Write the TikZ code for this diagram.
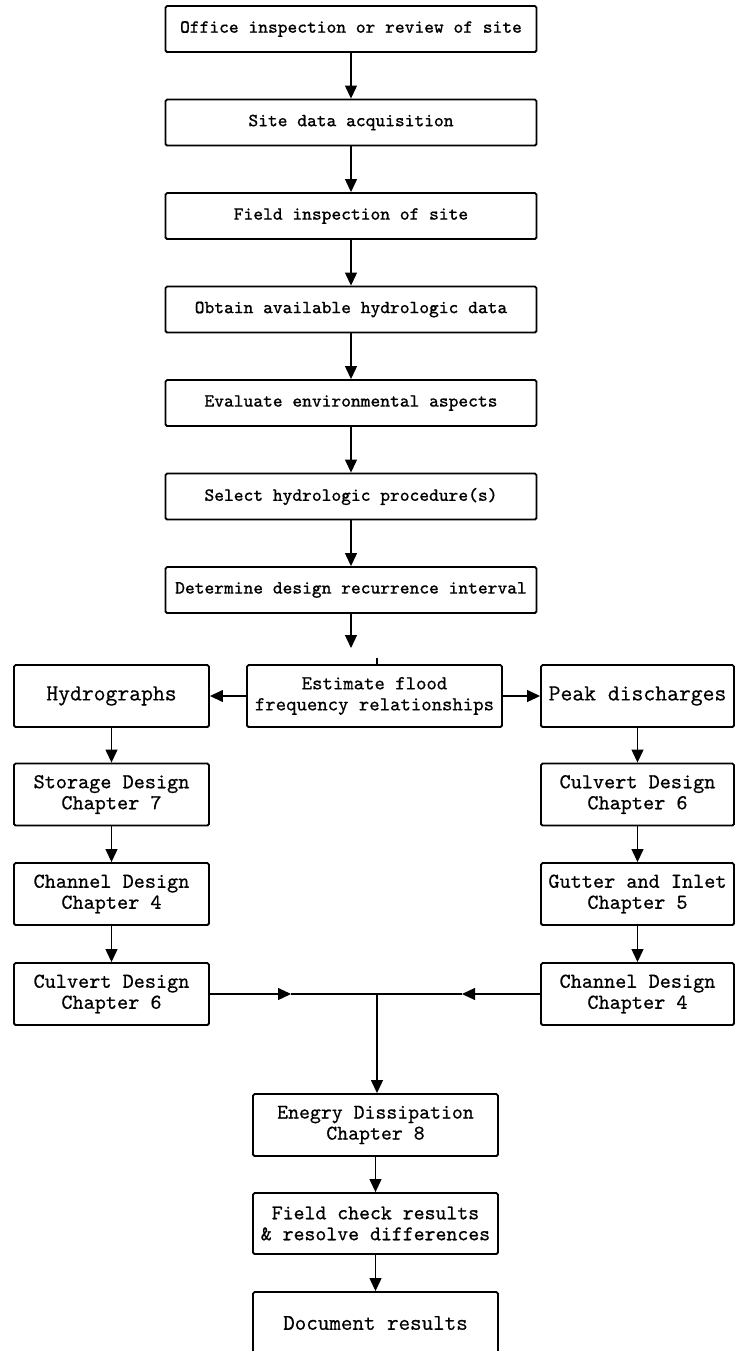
\documentclass[tikz,border=0pt]{standalone}
\usepackage{fontspec}
\newfontfamily\plotfont{Latin Modern Mono}[FakeBold=0.6]
\usetikzlibrary{arrows.meta}
\begin{document}
\begin{tikzpicture}[x=0.5pt,y=-0.5pt,
  fs/.style={font=\fontsize{#1}{10.5}\selectfont\plotfont},
  box/.style={draw,line width=0.95pt,align=center,inner sep=0pt,rounded corners=0.8pt,fs=10.6},
  topbox/.style={box,minimum width=185.5pt,minimum height=23pt,fs=9.3},
  sidebox/.style={box,minimum width=97.5pt,minimum height=31pt},
  rightbox/.style={box,minimum width=96.5pt,minimum height=31pt},
  midbox/.style={box,minimum width=122.5pt,minimum height=31pt},
  arr/.style={line width=0.6pt,-{Triangle[length=6.5pt,width=6pt]}},
  conn/.style={line width=0.6pt}]
\useasboundingbox (0,0) rectangle (735,1351);
\clip (0,0) rectangle (735,1351);
\fill[white] (0,0) rectangle (735,1351);

% top column
\node[topbox] (office) at (351,29)    {Office inspection or review of site};
\node[topbox] (site)   at (351,122.5) {Site data acquisition};
\node[topbox] (field)  at (351,216)   {Field inspection of site};
\node[topbox] (obtain) at (351,309.5) {Obtain available hydrologic data};
\node[topbox] (eval)   at (351,403)   {Evaluate environmental aspects};
\node[topbox] (select) at (351,496.5) {Select hydrologic procedure(s)};
\node[topbox] (det)    at (351,590)   {Determine design recurrence interval};

\draw[arr] (office) -- (site);
\draw[arr] (site) -- (field);
\draw[arr] (field) -- (obtain);
\draw[arr] (obtain) -- (eval);
\draw[arr] (eval) -- (select);
\draw[arr] (select) -- (det);

% middle row
\node[box,minimum width=127.5pt,minimum height=31pt,fs=9.9] (est) at (374.5,696)
  {Estimate flood\\frequency relationships};
\node[sidebox,fs=11.5] (hydro) at (111.5,696) {Hydrographs};
\node[rightbox,fs=11.5] (peak) at (637.5,696) {Peak discharges};

\coordinate (dtip) at (351,648);
\draw[arr] (det.south) -- (dtip);
\draw[conn] (est.north -| 377,0) -- ++(0,-6);

\draw[arr] (est) -- (hydro);
\draw[arr] (est) -- (peak);

% left column
\node[sidebox] (stor) at (111.5,794.5) {Storage Design\\Chapter 7};
\node[sidebox] (chL)  at (111.5,894)   {Channel Design\\Chapter 4};
\node[sidebox] (culL) at (111.5,994)   {Culvert Design\\Chapter 6};
\draw[arr] (hydro) -- (stor);
\draw[arr] (stor) -- (chL);
\draw[arr] (chL) -- (culL);

% right column
\node[rightbox] (culR) at (637.5,794.5) {Culvert Design\\Chapter 6};
\node[rightbox] (gut)  at (637.5,894)   {Gutter and Inlet\\Chapter 5};
\node[rightbox] (chR)  at (637.5,994)   {Channel Design\\Chapter 4};
\draw[arr] (peak) -- (culR);
\draw[arr] (culR) -- (gut);
\draw[arr] (gut) -- (chR);

% merge
\coordinate (mL) at (291,994);
\coordinate (J)  at (377,994);
\coordinate (mR) at (462,994);
\draw[arr] (culL.east) -- (mL);
\draw[conn] (mL) -- (J);
\draw[arr] (chR.west) -- (mR);
\draw[conn] (mR) -- (J);

% bottom column
\node[midbox,fs=10.4] (energy) at (375.5,1125) {Enegry Dissipation\\Chapter 8};
\node[midbox,minimum height=30.5pt,fs=10.4] (check) at (375.5,1223.5) {Field check results\\\& resolve differences};
\node[midbox,fs=11.2] (doc) at (375.5,1323) {Document results};

\draw[arr] (J) -- (J |- energy.north);
\draw[arr] (energy) -- (check);
\draw[arr] (check) -- (doc);
\end{tikzpicture}
\end{document}
